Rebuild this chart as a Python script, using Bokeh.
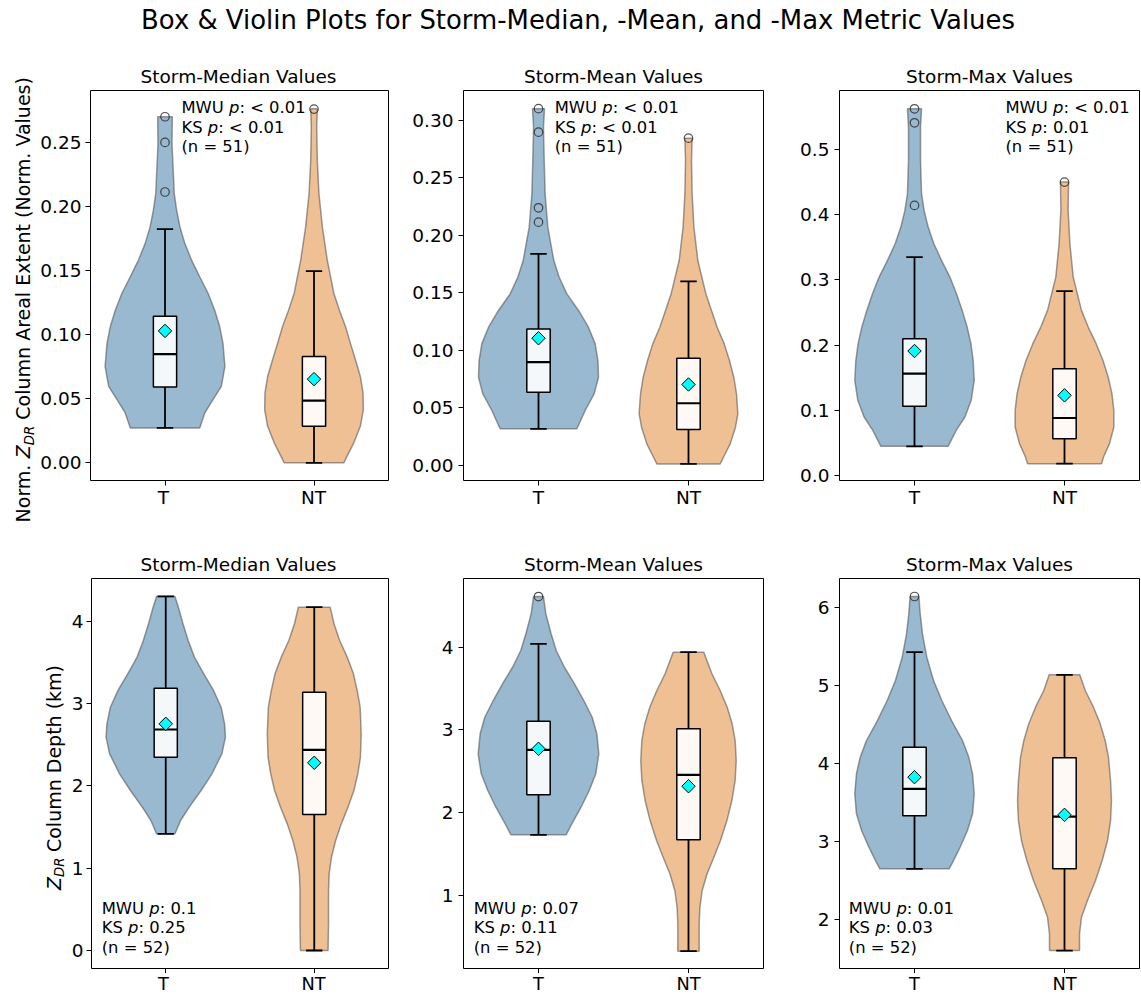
import numpy as np
from bokeh.plotting import figure
from bokeh.layouts import column, row
from bokeh.models import Range1d, FixedTicker, Label, CustomJSTickFormatter
from bokeh.embed import file_html
from bokeh.resources import INLINE

FONT = "DejaVu Sans"

# ---------------- data ----------------
suptitle = "Box & Violin Plots for Storm-Median, -Mean, and -Max Metric Values"
panel_titles = ["Storm-Median Values", "Storm-Mean Values", "Storm-Max Values",
                "Storm-Median Values", "Storm-Mean Values", "Storm-Max Values"]
groups = ["T", "NT"]
positions = [1, 2]
ylabel_top = ["Norm.", "Z", "DR", "Column Areal Extent (Norm. Values)"]
ylabel_bottom = ["Z", "DR", "Column Depth (km)"]

mwu_p = ["< 0.01", "< 0.01", "< 0.01", "0.1", "0.07", "0.01"]
ks_p = ["< 0.01", "< 0.01", "0.01", "0.25", "0.11", "0.03"]
n_storms = [51, 51, 51, 52, 52, 52]

yticks_area_median = [0.0, 0.05, 0.10, 0.15, 0.20, 0.25]
ylabels_area_median = ["0.00", "0.05", "0.10", "0.15", "0.20", "0.25"]
yticks_area_mean = [0.0, 0.05, 0.10, 0.15, 0.20, 0.25, 0.30]
ylabels_area_mean = ["0.00", "0.05", "0.10", "0.15", "0.20", "0.25", "0.30"]
yticks_area_max = [0.0, 0.1, 0.2, 0.3, 0.4, 0.5]
ylabels_area_max = ["0.0", "0.1", "0.2", "0.3", "0.4", "0.5"]
yticks_depth_median = [0, 1, 2, 3, 4]
ylabels_depth_median = ["0", "1", "2", "3", "4"]
yticks_depth_mean = [1, 2, 3, 4]
ylabels_depth_mean = ["1", "2", "3", "4"]
yticks_depth_max = [2, 3, 4, 5, 6]
ylabels_depth_max = ["2", "3", "4", "5", "6"]

yrange_area_median = (-0.0138, 0.2905)
yrange_area_mean = (-0.0130, 0.3258)
yrange_area_max = (-0.0080, 0.5911)
yrange_depth_median = (-0.2186, 4.518)
yrange_depth_mean = (0.119, 4.830)
yrange_depth_max = (1.376, 6.376)

# box stats: [lower whisker, Q1, median, Q3, upper whisker, mean]
box_area_median_T = [0.0272, 0.0591, 0.0848, 0.1144, 0.1823, 0.1029]
box_area_median_NT = [0.0000, 0.0285, 0.0485, 0.0830, 0.1496, 0.0653]
box_area_mean_T = [0.0319, 0.0637, 0.0898, 0.1187, 0.1839, 0.1106]
box_area_mean_NT = [0.0014, 0.0313, 0.0541, 0.0932, 0.1599, 0.0704]
box_area_max_T = [0.0445, 0.1059, 0.1561, 0.2099, 0.3350, 0.1909]
box_area_max_NT = [0.0180, 0.0563, 0.0880, 0.1638, 0.2830, 0.1228]
box_depth_median_T = [1.417, 2.348, 2.684, 3.186, 4.300, 2.753]
box_depth_median_NT = [0.000, 1.652, 2.437, 3.138, 4.170, 2.280]
box_depth_mean_T = [1.733, 2.217, 2.760, 3.106, 4.041, 2.773]
box_depth_mean_NT = [0.328, 1.673, 2.459, 3.014, 3.940, 2.321]
box_depth_max_T = [2.654, 3.333, 3.679, 4.213, 5.431, 3.829]
box_depth_max_NT = [1.606, 2.654, 3.324, 4.077, 5.141, 3.346]

out_area_median_T = [0.270, 0.250, 0.2113]
out_area_median_NT = [0.276]
out_area_mean_T = [0.310, 0.2896, 0.2239, 0.2114]
out_area_mean_NT = [0.2844]
out_area_max_T = [0.563, 0.5415, 0.4146]
out_area_max_NT = [0.4504]
out_depth_median_T = []
out_depth_median_NT = []
out_depth_mean_T = [4.612]
out_depth_mean_NT = []
out_depth_max_T = [6.145]
out_depth_max_NT = []

# violin outlines: value and half-width (x units)
vy_area_median_T = [0.0272, 0.0389, 0.0493, 0.0596, 0.0752, 0.0934, 0.1063, 0.1193, 0.1323, 0.1452, 0.1582, 0.1712, 0.1841, 0.1971, 0.2101, 0.2490, 0.2700]
vw_area_median_T = [0.233, 0.267, 0.322, 0.378, 0.402, 0.389, 0.367, 0.333, 0.289, 0.233, 0.178, 0.133, 0.100, 0.078, 0.062, 0.047, 0.049]
vy_area_median_NT = [0.0, 0.0052, 0.0156, 0.0285, 0.0415, 0.0545, 0.0674, 0.0804, 0.0934, 0.1063, 0.1193, 0.1323, 0.1582, 0.1841, 0.2101, 0.2360, 0.2619, 0.2762]
vw_area_median_NT = [0.200, 0.222, 0.267, 0.311, 0.331, 0.329, 0.311, 0.278, 0.244, 0.211, 0.170, 0.133, 0.089, 0.056, 0.033, 0.022, 0.018, 0.022]
vy_area_mean_T = [0.0319, 0.0478, 0.0623, 0.0767, 0.0912, 0.1057, 0.1202, 0.1347, 0.1491, 0.1636, 0.1781, 0.2071, 0.2360, 0.2650, 0.2939, 0.3099]
vw_area_mean_T = [0.256, 0.311, 0.371, 0.400, 0.396, 0.378, 0.333, 0.267, 0.189, 0.138, 0.102, 0.062, 0.044, 0.038, 0.033, 0.040]
vy_area_mean_NT = [0.0014, 0.0072, 0.0188, 0.0333, 0.0449, 0.0623, 0.0767, 0.0912, 0.1057, 0.1202, 0.1491, 0.1781, 0.2071, 0.2360, 0.2650, 0.2844]
vw_area_mean_NT = [0.211, 0.233, 0.278, 0.313, 0.329, 0.320, 0.302, 0.273, 0.238, 0.191, 0.116, 0.062, 0.036, 0.024, 0.020, 0.024]
vy_area_max_T = [0.0445, 0.0691, 0.0895, 0.1152, 0.1459, 0.1766, 0.2022, 0.2277, 0.2533, 0.2790, 0.3045, 0.3301, 0.3557, 0.3813, 0.4069, 0.4325, 0.4836, 0.5348, 0.5630]
vw_area_max_T = [0.224, 0.278, 0.336, 0.378, 0.398, 0.391, 0.376, 0.351, 0.318, 0.280, 0.236, 0.180, 0.129, 0.091, 0.064, 0.047, 0.040, 0.040, 0.047]
vy_area_max_NT = [0.0179, 0.0281, 0.0486, 0.0742, 0.0998, 0.1254, 0.1510, 0.1766, 0.2022, 0.2277, 0.2533, 0.3045, 0.3557, 0.4069, 0.4504]
vw_area_max_NT = [0.247, 0.260, 0.300, 0.329, 0.329, 0.316, 0.291, 0.256, 0.211, 0.158, 0.113, 0.058, 0.036, 0.024, 0.027]
vy_depth_median_T = [1.417, 1.579, 1.741, 1.943, 2.146, 2.389, 2.591, 2.753, 2.955, 3.158, 3.360, 3.563, 3.765, 3.968, 4.170, 4.300]
vw_depth_median_T = [0.062, 0.100, 0.158, 0.238, 0.311, 0.378, 0.402, 0.396, 0.373, 0.322, 0.256, 0.193, 0.151, 0.116, 0.085, 0.062]
vy_depth_median_NT = [0.0, 0.324, 0.526, 0.729, 0.931, 1.134, 1.336, 1.538, 1.741, 1.943, 2.146, 2.348, 2.632, 2.955, 3.158, 3.360, 3.563, 3.765, 3.968, 4.170]
vw_depth_median_NT = [0.093, 0.096, 0.096, 0.096, 0.100, 0.116, 0.144, 0.182, 0.227, 0.267, 0.293, 0.311, 0.316, 0.309, 0.289, 0.264, 0.222, 0.171, 0.133, 0.107]
vy_depth_mean_T = [1.734, 1.867, 2.067, 2.269, 2.471, 2.712, 2.954, 3.154, 3.356, 3.557, 3.758, 3.960, 4.162, 4.403, 4.612]
vw_depth_mean_T = [0.184, 0.222, 0.284, 0.338, 0.382, 0.402, 0.389, 0.358, 0.302, 0.240, 0.173, 0.118, 0.084, 0.049, 0.033]
vy_depth_mean_NT = [0.328, 0.659, 0.859, 1.061, 1.263, 1.463, 1.664, 1.906, 2.148, 2.390, 2.631, 2.873, 3.075, 3.275, 3.477, 3.679, 3.940]
vw_depth_mean_NT = [0.071, 0.071, 0.076, 0.091, 0.124, 0.169, 0.213, 0.256, 0.289, 0.311, 0.318, 0.311, 0.291, 0.258, 0.211, 0.156, 0.102]
vy_depth_max_T = [2.654, 2.760, 2.931, 3.145, 3.359, 3.615, 3.872, 4.085, 4.299, 4.555, 4.812, 5.068, 5.367, 5.667, 5.923, 6.145]
vw_depth_max_T = [0.231, 0.260, 0.304, 0.353, 0.387, 0.398, 0.387, 0.362, 0.320, 0.247, 0.182, 0.127, 0.082, 0.053, 0.038, 0.029]
vy_depth_max_NT = [1.606, 1.821, 2.033, 2.247, 2.504, 2.760, 3.017, 3.273, 3.529, 3.786, 4.085, 4.299, 4.513, 4.726, 4.940, 5.141]
vw_depth_max_NT = [0.100, 0.100, 0.113, 0.153, 0.207, 0.251, 0.287, 0.307, 0.313, 0.307, 0.293, 0.271, 0.238, 0.193, 0.138, 0.102]

panels = [
    dict(yr=yrange_area_median, yt=yticks_area_median, yl=ylabels_area_median,
         box=[box_area_median_T, box_area_median_NT], out=[out_area_median_T, out_area_median_NT],
         vy=[vy_area_median_T, vy_area_median_NT], vw=[vw_area_median_T, vw_area_median_NT]),
    dict(yr=yrange_area_mean, yt=yticks_area_mean, yl=ylabels_area_mean,
         box=[box_area_mean_T, box_area_mean_NT], out=[out_area_mean_T, out_area_mean_NT],
         vy=[vy_area_mean_T, vy_area_mean_NT], vw=[vw_area_mean_T, vw_area_mean_NT]),
    dict(yr=yrange_area_max, yt=yticks_area_max, yl=ylabels_area_max,
         box=[box_area_max_T, box_area_max_NT], out=[out_area_max_T, out_area_max_NT],
         vy=[vy_area_max_T, vy_area_max_NT], vw=[vw_area_max_T, vw_area_max_NT]),
    dict(yr=yrange_depth_median, yt=yticks_depth_median, yl=ylabels_depth_median,
         box=[box_depth_median_T, box_depth_median_NT], out=[out_depth_median_T, out_depth_median_NT],
         vy=[vy_depth_median_T, vy_depth_median_NT], vw=[vw_depth_median_T, vw_depth_median_NT]),
    dict(yr=yrange_depth_mean, yt=yticks_depth_mean, yl=ylabels_depth_mean,
         box=[box_depth_mean_T, box_depth_mean_NT], out=[out_depth_mean_T, out_depth_mean_NT],
         vy=[vy_depth_mean_T, vy_depth_mean_NT], vw=[vw_depth_mean_T, vw_depth_mean_NT]),
    dict(yr=yrange_depth_max, yt=yticks_depth_max, yl=ylabels_depth_max,
         box=[box_depth_max_T, box_depth_max_NT], out=[out_depth_max_T, out_depth_max_NT],
         vy=[vy_depth_max_T, vy_depth_max_NT], vw=[vw_depth_max_T, vw_depth_max_NT]),
]

# ---------------- layout / style ----------------
violin_colors = ["#3274a1", "#e1812c"]
ann_frac = [0.303, 0.304, 0.553, 0.034, 0.034, 0.031]
FRAME_W, FRAME_H = 300, 390
TOTAL_W = 1140
YLAB_W = [37, 68]
FRAME_LEFT = [88, 463, 839]          # page x of frame left edges
ROW_FRAME_TOP = [90, 578]            # page y of frame tops
FIG_LEFT = [[YLAB_W[0], 405, 785], [YLAB_W[1], 405, 785]]   # page x where each panel figure starts
FIG_RIGHT = [405, 785, 1140]
TOP_STRIP_H, MID_STRIP_H, BOT_STRIP_H = 88, 88, 21
ROW_H = [400, 397]                   # top border 2 + frame 390 + tick room
TICK_FS = 18.5
ANN_FS = 16.4
BASE_FIX = 0.37                      # baseline correction (em) for rendered labels

EM = {'M': .863, 'W': .989, 'U': .732, 'K': .656, 'S': .635, ' ': .318, 'p': .635,
      'N': .748, 'o': .612, 'r': .411, 'm': .974, '.': .318, 'Z': .686, 'D': .770, 'R': .695}


def tw(s, px):
    return sum(EM.get(c, 0.6) for c in s) * px


def add_text(p, x, y, text, xo=0.0, yo=0.0, fs=16.4, style="normal", align="left", angle=0.0):
    if angle == 0.0:
        yo = yo + BASE_FIX * fs
    else:
        xo = xo - BASE_FIX * fs
    p.add_layout(Label(x=x, y=y, x_units="data", y_units="data", x_offset=xo, y_offset=yo,
                       text=text, text_font=FONT, text_font_size=f"{fs}px", text_font_style=style,
                       text_align=align, text_baseline="alphabetic", angle=angle, text_color="black"))


class Strip:
    """A plain figure whose frame covers the whole canvas; text is placed by page coordinates."""

    def __init__(self, left, top, w, h):
        self.left, self.top, self.w, self.h = left, top, w, h
        s = figure(width=w, height=h, x_range=Range1d(0, w), y_range=Range1d(0, h),
                   output_backend="svg", toolbar_location=None, title=None,
                   x_axis_location=None, y_axis_location=None, min_border=0)
        s.outline_line_color = None
        s.grid.visible = False
        s.background_fill_color = "white"
        s.border_fill_color = "white"
        self.fig = s

    def text(self, page_x, page_y, text, **kw):
        add_text(self.fig, page_x - self.left, self.top + self.h - page_y, text, **kw)


def make_panel(i):
    cfg = panels[i]
    top = i < 3
    r = 0 if top else 1
    colidx = i % 3
    left = FRAME_LEFT[colidx] - FIG_LEFT[r][colidx]
    right = FIG_RIGHT[colidx] - FRAME_LEFT[colidx] - FRAME_W
    y0, y1 = cfg["yr"]
    p = figure(width=left + FRAME_W + right, height=ROW_H[r],
               x_range=Range1d(0.5, 2.5), y_range=Range1d(y0, y1),
               output_backend="svg", toolbar_location=None, title=None,
               min_border_left=left, min_border_right=right,
               min_border_top=2, min_border_bottom=ROW_H[r] - 2 - FRAME_H)
    p.background_fill_color = "white"
    p.border_fill_color = "white"
    p.xgrid.visible = False
    p.ygrid.visible = False
    p.outline_line_color = "black"
    p.outline_line_width = 1
    p.outline_line_alpha = 1
    p.axis.axis_line_color = None
    p.axis.major_tick_line_color = "black"
    p.axis.major_tick_out = 5
    p.axis.major_tick_in = 0
    p.axis.minor_tick_line_color = None
    p.yaxis.ticker = FixedTicker(ticks=cfg["yt"])
    p.yaxis.formatter = CustomJSTickFormatter(
        args=dict(tv=cfg["yt"], lbl=cfg["yl"]),
        code="const j = tv.findIndex(t => Math.abs(t - tick) < 1e-9); return j >= 0 ? lbl[j] : '';")
    p.yaxis.major_label_text_font = FONT
    p.yaxis.major_label_text_font_size = f"{TICK_FS}px"
    p.yaxis.major_label_text_color = "black"
    p.yaxis.major_label_standoff = 4 if colidx == 0 and top else (3 if colidx == 0 else 5)
    p.xaxis.ticker = FixedTicker(ticks=positions)
    p.xaxis.formatter = CustomJSTickFormatter(code="return '';")
    p.xaxis.major_label_text_font_size = "0px"
    p.xaxis.major_label_standoff = 0

    for k, c in enumerate(positions):
        vy = cfg["vy"][k]
        vw = cfg["vw"][k]
        xs = [c + w for w in vw] + [c - w for w in vw[::-1]]
        ys = list(vy) + list(vy[::-1])
        p.patch(xs, ys, fill_color=violin_colors[k], fill_alpha=0.5,
                line_color="#4d4d4d", line_alpha=0.55, line_width=1.5)
        wlo, q1, med, q3, whi, mean = cfg["box"][k]
        p.segment(x0=[c, c], y0=[q3, q1], x1=[c, c], y1=[whi, wlo], line_color="black", line_width=1.8)
        p.segment(x0=[c - 0.055, c - 0.055], y0=[whi, wlo], x1=[c + 0.055, c + 0.055], y1=[whi, wlo],
                  line_color="black", line_width=1.8)
        p.quad(left=[c - 0.078], right=[c + 0.078], bottom=[q1], top=[q3],
               fill_color="white", fill_alpha=0.9, line_color="black", line_width=1.5)
        p.segment(x0=[c - 0.078], y0=[med], x1=[c + 0.078], y1=[med], line_color="black", line_width=2.2)
        p.scatter(x=[c], y=[mean], marker="square", angle=np.pi / 4, size=9.5,
                  fill_color="#00ffff", line_color="black", line_width=1)
        outs = cfg["out"][k]
        if outs:
            p.scatter(x=[c] * len(outs), y=outs, marker="circle", size=8.5, fill_color=None,
                      line_color="#262626", line_alpha=0.8, line_width=1.2)

    # statistics annotation (inside the frame)
    xo = ann_frac[i] * FRAME_W
    if top:
        ybase, offs = y1, [-23.5, -43.0, -62.5]
    else:
        ybase, offs = y0, [54.0, 34.5, 15.0]
    for line_idx, (lead, val) in enumerate([("MWU", mwu_p[i]), ("KS", ks_p[i])]):
        add_text(p, 0.5, ybase, lead, xo=xo, yo=offs[line_idx], fs=ANN_FS)
        px_p = xo + tw(lead + " ", ANN_FS)
        add_text(p, 0.5, ybase, "p", xo=px_p, yo=offs[line_idx], fs=ANN_FS, style="italic")
        add_text(p, 0.5, ybase, ": " + val, xo=px_p + tw("p", ANN_FS), yo=offs[line_idx], fs=ANN_FS)
    add_text(p, 0.5, ybase, f"(n = {n_storms[i]})", xo=xo, yo=offs[2], fs=ANN_FS)
    return p


figs = [make_panel(i) for i in range(6)]

ROW1_TOP = TOP_STRIP_H
MID_TOP = ROW1_TOP + ROW_H[0]
ROW2_TOP = MID_TOP + MID_STRIP_H
BOT_TOP = ROW2_TOP + ROW_H[1]

# ---- top strip: suptitle + first-row panel titles ----
top_strip = Strip(YLAB_W[0], 0, TOTAL_W - YLAB_W[0], TOP_STRIP_H)
top_strip.text(577.5, 29, suptitle, fs=25.9, align="center")
for col in range(3):
    top_strip.text(FRAME_LEFT[col] + FRAME_W / 2, ROW_FRAME_TOP[0] - 7, panel_titles[col],
                   fs=TICK_FS, align="center")

# ---- middle strip: first-row x tick labels + second-row panel titles ----
mid_strip = Strip(YLAB_W[0], MID_TOP, TOTAL_W - YLAB_W[0], MID_STRIP_H)
for col in range(3):
    for k, c in enumerate(positions):
        xpix = FRAME_LEFT[col] + (c - 0.5) * FRAME_W / 2
        mid_strip.text(xpix, ROW_FRAME_TOP[0] + FRAME_H + 23.5, groups[k], fs=TICK_FS, align="center")
    mid_strip.text(FRAME_LEFT[col] + FRAME_W / 2, ROW_FRAME_TOP[1] - 7.5, panel_titles[3 + col],
                   fs=TICK_FS, align="center")

# ---- bottom strip: second-row x tick labels ----
bot_strip = Strip(0, BOT_TOP, TOTAL_W, BOT_STRIP_H)
for col in range(3):
    for k, c in enumerate(positions):
        xpix = FRAME_LEFT[col] + (c - 0.5) * FRAME_W / 2
        bot_strip.text(xpix, BOT_TOP + 16.6, groups[k], fs=17.8, align="center")

# ---- y-axis label strips (rotated text with italic subscript) ----
A = np.pi / 2
FS_L, FS_S = 19.0, 13.3

ylab1 = Strip(0, 0, YLAB_W[0], ROW1_TOP + ROW_H[0] + MID_STRIP_H)
center1 = ROW_FRAME_TOP[0] + FRAME_H / 2
total1 = tw("Norm. ", FS_L) + tw("Z", FS_L) + tw("DR", FS_S) + tw(" " + ylabel_top[3], FS_L)
py = center1 + total1 / 2           # page y where the text starts (bottom end)
xb = 30.0
ylab1.text(xb, py, ylabel_top[0], fs=FS_L, angle=A)
py -= tw("Norm. ", FS_L)
ylab1.text(xb, py, ylabel_top[1], fs=FS_L, style="italic", angle=A)
py -= tw("Z", FS_L)
ylab1.text(xb + 3.5, py, ylabel_top[2], fs=FS_S, style="italic", angle=A)
py -= tw("DR", FS_S) + tw(" ", FS_L)
ylab1.text(xb, py, ylabel_top[3], fs=FS_L, angle=A)

ylab2 = Strip(0, ROW2_TOP, YLAB_W[1], ROW_H[1])
center2 = ROW_FRAME_TOP[1] + FRAME_H / 2
total2 = tw("Z", FS_L) + tw("DR", FS_S) + tw(" " + ylabel_bottom[2], FS_L)
py = center2 + total2 / 2
xb = 60.5
ylab2.text(xb, py, ylabel_bottom[0], fs=FS_L, style="italic", angle=A)
py -= tw("Z", FS_L)
ylab2.text(xb + 3.5, py, ylabel_bottom[1], fs=FS_S, style="italic", angle=A)
py -= tw("DR", FS_S) + tw(" ", FS_L)
ylab2.text(xb, py, ylabel_bottom[2], fs=FS_L, angle=A)

layout = column(
    row(ylab1.fig, column(top_strip.fig, row(figs[0], figs[1], figs[2]), mid_strip.fig)),
    row(ylab2.fig, figs[3], figs[4], figs[5]),
    bot_strip.fig,
)

with open("out.html", "w") as f:
    f.write(file_html(layout, INLINE, title="Box & Violin Plots"))
